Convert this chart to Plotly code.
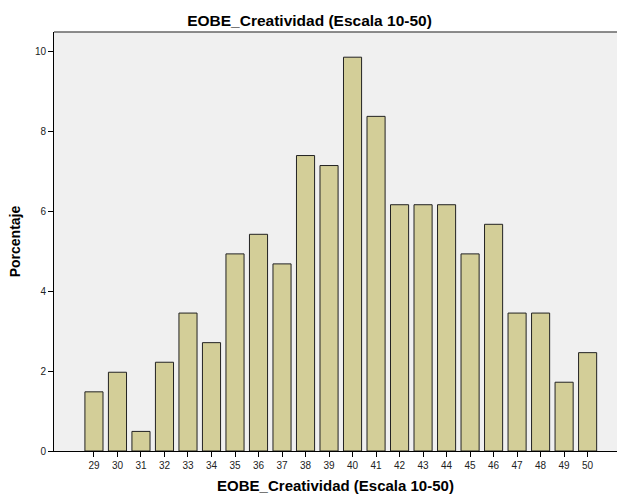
import plotly.graph_objects as go

# puntuaciones y porcentaje
puntuacion = [29, 30, 31, 32, 33, 34, 35, 36, 37, 38, 39, 40, 41, 42, 43, 44, 45, 46, 47, 48, 49, 50]
porcentaje = [1.48, 1.97, 0.49, 2.22, 3.45, 2.71, 4.93, 5.42, 4.68, 7.39, 7.14, 9.85,
              8.37, 6.16, 6.16, 6.16, 4.93, 5.67, 3.45, 3.45, 1.72, 2.46]
yticks = [0, 2, 4, 6, 8, 10]

fig = go.Figure()
fig.add_bar(x=puntuacion, y=porcentaje, width=0.77,
            marker=dict(color="#D3CE98", line=dict(color="#222222", width=1)))

fig.update_layout(
    width=619, height=497,
    margin=dict(l=54, r=2, t=32, b=46),
    paper_bgcolor="white", plot_bgcolor="#F0F0F0",
    font=dict(family="Liberation Sans, Arial", color="#222222"),
    showlegend=False,
    title=dict(text="<b>EOBE_Creatividad (Escala 10-50)</b>", x=0.5, xanchor="center",
               y=0.958, yanchor="middle", font=dict(size=15.5, color="#000000")),
    shapes=[dict(type="line", xref="paper", yref="paper", x0=0, x1=1, y0=1, y1=1,
                 line=dict(color="#666666", width=1.5))],
)
fig.update_xaxes(
    range=[27.3, 51.25], tickvals=puntuacion, ticktext=[str(p) for p in puntuacion],
    ticks="outside", ticklen=5, tickcolor="#000000", showgrid=False, zeroline=False,
    showline=True, linecolor="#000000", linewidth=1, tickfont=dict(size=10),
    title=dict(text="<b>EOBE_Creatividad (Escala 10-50)</b>", font=dict(size=15, color="#000000"),
               standoff=10),
)
fig.update_yaxes(
    range=[0, 10.48], tickvals=yticks, ticks="outside", ticklen=5, tickcolor="#000000",
    showgrid=False, zeroline=False, showline=True, linecolor="#000000", linewidth=1,
    tickfont=dict(size=10),
    title=dict(text="<b>Porcentaje</b>", font=dict(size=14, color="#000000"), standoff=10),
)

# quitar el margen del body para que la figura ocupe la ventana
fig.write_html("out.html", config={"displayModeBar": False},
               post_script="document.body.style.margin='0';document.body.style.overflow='hidden';")
